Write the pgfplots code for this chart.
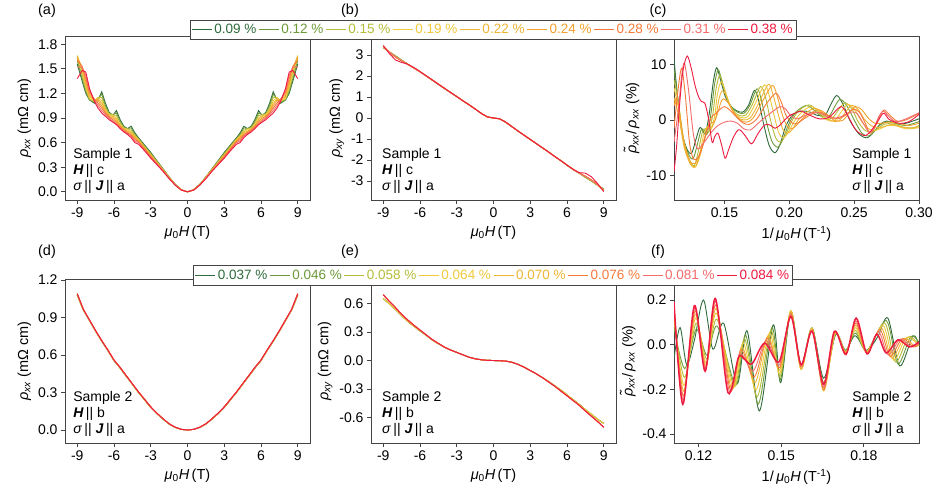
\documentclass[border=0pt]{standalone}
\usepackage{pgfplots}
\pgfplotsset{compat=1.18}
\usepackage{pgfplotstable}
\usepackage{fontspec}
\setmainfont{Liberation Sans}

\definecolor{c1}{HTML}{2E6B3C}
\definecolor{c2}{HTML}{6E9A3A}
\definecolor{c3}{HTML}{B5BC3A}
\definecolor{c4}{HTML}{F0C93C}
\definecolor{c5}{HTML}{EEB535}
\definecolor{c6}{HTML}{F3A02E}
\definecolor{c7}{HTML}{F57A3A}
\definecolor{c8}{HTML}{F46B6B}
\definecolor{c9}{HTML}{EE1B3F}
\definecolor{frame}{HTML}{444444}

\newcommand{\tfont}{\fontsize{14bp}{16bp}\selectfont}
\newcommand{\lfont}{\fontsize{14.5bp}{17bp}\selectfont}
\newcommand{\legfont}{\fontsize{13.5bp}{16bp}\selectfont}

% sample 1, rho_xx (mOhm cm)
\pgfplotstableread{
H     c1    c2    c3    c4    c5    c6    c7    c8    c9
-9.0  1.56  1.60  1.63  1.66  1.66  1.64  1.60  1.52  1.38
-8.6  1.35  1.38  1.42  1.46  1.49  1.52  1.53  1.52  1.48
-8.3  1.20  1.22  1.25  1.28  1.31  1.34  1.38  1.42  1.46
-8.0  1.12  1.12  1.13  1.14  1.16  1.18  1.21  1.24  1.26
-7.6  1.08  1.09  1.10  1.11  1.12  1.12  1.13  1.12  1.10
-7.3  1.12  1.14  1.15  1.15  1.13  1.11  1.08  1.05  1.02
-7.0  1.22  1.19  1.15  1.11  1.08  1.05  1.02  0.99  0.96
-6.7  1.08  1.05  1.02  1.00  0.99  0.97  0.96  0.94  0.92
-6.4  0.97  0.96  0.95  0.94  0.93  0.92  0.91  0.90  0.88
-6.1  0.93  0.94  0.94  0.93  0.92  0.90  0.88  0.86  0.85
-5.8  0.99  0.96  0.93  0.90  0.88  0.86  0.84  0.82  0.82
-5.5  0.88  0.86  0.84  0.82  0.81  0.80  0.79  0.78  0.77
-5.2  0.80  0.79  0.78  0.77  0.77  0.76  0.75  0.74  0.73
-4.9  0.77  0.77  0.77  0.76  0.74  0.73  0.72  0.71  0.70
-4.6  0.80  0.78  0.75  0.73  0.72  0.70  0.69  0.68  0.66
-4.3  0.72  0.70  0.69  0.68  0.67  0.66  0.64  0.62  0.60
-4.0  0.66  0.65  0.64  0.64  0.63  0.62  0.61  0.60  0.58
-3.5  0.57  0.56  0.55  0.54  0.535 0.53  0.52  0.51  0.50
-3.0  0.48  0.47  0.46  0.45  0.445 0.44  0.43  0.42  0.41
-2.5  0.38  0.37  0.37  0.36  0.355 0.35  0.345 0.34  0.33
-2.0  0.28  0.28  0.27  0.27  0.265 0.26  0.258 0.255 0.25
-1.5  0.18  0.18  0.18  0.175 0.172 0.17  0.168 0.165 0.16
-1.0  0.09  0.09  0.09  0.088 0.087 0.085 0.084 0.082 0.08
-0.5  0.025 0.025 0.025 0.024 0.023 0.022 0.022 0.021 0.02
0.0   0     0     0     0     0     0     0     0     0
0.5   0.025 0.025 0.025 0.024 0.023 0.022 0.022 0.021 0.02
1.0   0.09  0.09  0.09  0.088 0.087 0.085 0.084 0.082 0.08
1.5   0.18  0.18  0.18  0.175 0.172 0.17  0.168 0.165 0.16
2.0   0.28  0.28  0.27  0.27  0.265 0.26  0.258 0.255 0.25
2.5   0.38  0.37  0.37  0.36  0.355 0.35  0.345 0.34  0.33
3.0   0.48  0.47  0.46  0.45  0.445 0.44  0.43  0.42  0.41
3.5   0.57  0.56  0.55  0.54  0.535 0.53  0.52  0.51  0.50
4.0   0.66  0.65  0.64  0.64  0.63  0.62  0.61  0.60  0.58
4.3   0.72  0.70  0.69  0.68  0.67  0.66  0.64  0.62  0.60
4.6   0.80  0.78  0.75  0.73  0.72  0.70  0.69  0.68  0.66
4.9   0.77  0.77  0.77  0.76  0.74  0.73  0.72  0.71  0.70
5.2   0.80  0.79  0.78  0.77  0.77  0.76  0.75  0.74  0.73
5.5   0.88  0.86  0.84  0.82  0.81  0.80  0.79  0.78  0.77
5.8   0.99  0.96  0.93  0.90  0.88  0.86  0.84  0.82  0.82
6.1   0.93  0.94  0.94  0.93  0.92  0.90  0.88  0.86  0.85
6.4   0.97  0.96  0.95  0.94  0.93  0.92  0.91  0.90  0.88
6.7   1.08  1.05  1.02  1.00  0.99  0.97  0.96  0.94  0.92
7.0   1.22  1.19  1.15  1.11  1.08  1.05  1.02  0.99  0.96
7.3   1.12  1.14  1.15  1.15  1.13  1.11  1.08  1.05  1.02
7.6   1.08  1.09  1.10  1.11  1.12  1.12  1.13  1.12  1.10
8.0   1.12  1.12  1.13  1.14  1.16  1.18  1.21  1.24  1.26
8.3   1.20  1.22  1.25  1.28  1.31  1.34  1.38  1.42  1.46
8.6   1.35  1.38  1.42  1.46  1.49  1.52  1.53  1.52  1.48
9.0   1.56  1.60  1.63  1.66  1.66  1.64  1.60  1.52  1.38
}\tabA

% sample 1, rho_xy (mOhm cm)
\pgfplotstableread{
H     A      B      R
-9.0  3.35   3.40   3.45
-8.5  3.14   3.13   3.06
-8.0  2.95   2.90   2.76
-7.5  2.75   2.72   2.64
-7.0  2.56   2.55   2.56
-6.5  2.38   2.38   2.40
-6.0  2.20   2.20   2.21
-5.5  2.00   2.00   2.01
-5.0  1.80   1.81   1.81
-4.5  1.60   1.61   1.61
-4.0  1.40   1.41   1.41
-3.5  1.21   1.21   1.21
-3.0  1.02   1.02   1.02
-2.5  0.82   0.82   0.82
-2.0  0.63   0.63   0.63
-1.5  0.43   0.43   0.43
-1.0  0.22   0.22   0.22
-0.5  0.05   0.05   0.05
0.0   0.00   0.00   0.00
0.5   -0.04  -0.04  -0.04
1.0   -0.20  -0.20  -0.20
1.5   -0.41  -0.41  -0.41
2.0   -0.62  -0.62  -0.62
2.5   -0.82  -0.82  -0.82
3.0   -1.02  -1.02  -1.02
3.5   -1.22  -1.22  -1.22
4.0   -1.42  -1.42  -1.42
4.5   -1.62  -1.62  -1.62
5.0   -1.83  -1.83  -1.83
5.5   -2.03  -2.03  -2.03
6.0   -2.25  -2.24  -2.24
6.5   -2.45  -2.44  -2.44
7.0   -2.63  -2.62  -2.60
7.5   -2.82  -2.77  -2.62
8.0   -3.00  -2.95  -2.80
8.5   -3.20  -3.17  -3.12
9.0   -3.38  -3.45  -3.50
}\tabB

% sample 2, rho_xx
\pgfplotstableread{
H     G      R
-9.0  1.08   1.09
-8.8  1.03   1.04
-8.5  0.96   0.965
-8.0  0.875  0.88
-7.5  0.79   0.795
-7.0  0.71   0.715
-6.5  0.635  0.64
-6.0  0.555  0.56
-5.5  0.495  0.50
-5.0  0.43   0.435
-4.5  0.365  0.37
-4.0  0.30   0.305
-3.5  0.24   0.245
-3.0  0.18   0.185
-2.5  0.13   0.135
-2.0  0.087  0.09
-1.5  0.048  0.05
-1.0  0.02   0.022
-0.5  0.005  0.005
0.0   0      0
0.5   0.005  0.005
1.0   0.02   0.022
1.5   0.048  0.05
2.0   0.087  0.09
2.5   0.13   0.135
3.0   0.18   0.185
3.5   0.24   0.245
4.0   0.30   0.305
4.5   0.365  0.37
5.0   0.43   0.435
5.5   0.495  0.50
6.0   0.555  0.56
6.5   0.635  0.64
7.0   0.71   0.715
7.5   0.79   0.795
8.0   0.875  0.88
8.5   0.96   0.965
8.8   1.03   1.04
9.0   1.08   1.09
}\tabD

% sample 2, rho_xy
\pgfplotstableread{
H     G       R
-9.0  0.65    0.69
-8.5  0.595   0.62
-8.0  0.535   0.555
-7.5  0.47    0.485
-7.0  0.41    0.425
-6.5  0.36    0.37
-6.0  0.31    0.32
-5.5  0.265   0.27
-5.0  0.215   0.22
-4.5  0.175   0.18
-4.0  0.14    0.14
-3.5  0.11    0.11
-3.0  0.085   0.085
-2.5  0.06    0.06
-2.0  0.035   0.035
-1.5  0.018   0.018
-1.0  0.008   0.008
-0.5  0.002   0.002
0.0   0       0
0.5   -0.002  -0.002
1.0   -0.006  -0.006
1.5   -0.018  -0.018
2.0   -0.04   -0.04
2.5   -0.07   -0.07
3.0   -0.105  -0.105
3.5   -0.14   -0.14
4.0   -0.18   -0.18
4.5   -0.22   -0.225
5.0   -0.265  -0.27
5.5   -0.31   -0.32
6.0   -0.36   -0.37
6.5   -0.41   -0.42
7.0   -0.46   -0.47
7.5   -0.515  -0.53
8.0   -0.565  -0.585
8.5   -0.615  -0.64
9.0   -0.66   -0.70
}\tabE

\tikzset{annot/.style={font=\tfont, align=left, inner sep=0pt}}

\pgfplotsset{
  panel/.style={
    scale only axis, width=245bp, height=164bp,
    axis line style={frame, line width=0.8bp},
    tick style={frame, line width=0.8bp},
    tick align=outside, tick pos=left, major tick length=4bp,
    every tick label/.append style={font=\tfont},
    label style={font=\lfont},
    xlabel style={yshift=-2bp},
    /pgf/number format/assume math mode=true,
  },
  field/.style={xmin=-10, xmax=10, xtick={-9,-6,-3,0,3,6,9},
    xlabel={\textit{μ}\textsubscript{0}\textit{H}\,(T)}},
  inv/.style={xlabel={1/\,\textit{μ}\textsubscript{0}\textit{H}\,(T\textsuperscript{-1})},
    xticklabel style={/pgf/number format/.cd, fixed, fixed zerofill, precision=2}},
  osc/.style={ylabel={\textit{\~{ρ}}\textsubscript{\textit{xx}}/\,\textit{ρ}\textsubscript{\textit{xx}} (\%)}},
  lw/.style={line width=0.9bp},
  toplegend/.style={legend columns=-1,
    legend style={color=frame, draw, fill=white, font=\legfont, line width=0.8bp,
      inner xsep=1.5bp, inner ysep=2.5bp,
      /tikz/every even column/.append style={column sep=0bp}},
    legend image code/.code={\draw[##1, line width=1bp] (0bp,0bp) -- (20bp,0bp);}},
}

\begin{document}
\begin{tikzpicture}
\useasboundingbox (0,0) rectangle (937bp,492bp);

% (a)
\begin{axis}[panel, field, at={(65bp,292bp)}, anchor=south west,
  ymin=-0.1, ymax=1.9, ytick={0,0.3,0.6,0.9,1.2,1.5,1.8},
  yticklabel style={/pgf/number format/.cd, fixed, fixed zerofill, precision=1},
  ylabel={\textit{ρ}\textsubscript{\textit{xx}} (mΩ cm)}]
\addplot[c1, lw] table[x=H, y=c1] {\tabA};
\addplot[c2, lw] table[x=H, y=c2] {\tabA};
\addplot[c3, lw] table[x=H, y=c3] {\tabA};
\addplot[c4, lw] table[x=H, y=c4] {\tabA};
\addplot[c5, lw] table[x=H, y=c5] {\tabA};
\addplot[c6, lw] table[x=H, y=c6] {\tabA};
\addplot[c7, lw] table[x=H, y=c7] {\tabA};
\addplot[c8, lw] table[x=H, y=c8] {\tabA};
\addplot[c9, lw] table[x=H, y=c9] {\tabA};
\node[annot, anchor=south west] at (rel axis cs:0.033,0.04)
  {Sample 1\\ \textbf{\textit{H}}\,|| c\\ \textit{σ}\,|| \textbf{\textit{J}}\,|| a};
\end{axis}

% (c)
\begin{axis}[panel, inv, osc, at={(674bp,292bp)}, anchor=south west,
  xmin=0.1111, xmax=0.30, xtick={0.15,0.20,0.25,0.30},
  ymin=-14.4, ymax=15.1, ytick={-10,0,10}]
\addplot[c1, lw, smooth] coordinates {(0.1111,11.0)(0.1135,5.0)(0.1170,-2.0)(0.1210,-5.2)(0.1246,-6.0)(0.1280,-3.5)(0.1310,-1.4)(0.1335,-2.0)(0.1355,-2.4)(0.1385,1.5)(0.1415,7.0)(0.1440,9.4)(0.1470,7.2)(0.1505,4.3)(0.1545,2.6)(0.1590,1.7)(0.1640,1.4)(0.1685,2.6)(0.1730,5.3)(0.1760,3.8)(0.1800,-0.5)(0.1845,-4.6)(0.1890,-5.9)(0.1930,-4.3)(0.1975,-1.0)(0.2030,1.0)(0.2100,1.6)(0.2160,1.4)(0.2220,0.8)(0.2280,1.0)(0.2320,2.8)(0.2365,4.4)(0.2410,3.0)(0.2470,-0.2)(0.2540,-2.6)(0.2600,-3.2)(0.2650,-2.2)(0.2700,-0.8)(0.2750,-0.2)(0.2810,-0.5)(0.2880,-0.7)(0.2940,-0.3)(0.3000,0.2)};
\addplot[c2, lw, smooth] coordinates {(0.1111,9.0)(0.1140,4.0)(0.1175,-2.5)(0.1220,-6.0)(0.1257,-7.0)(0.1290,-4.5)(0.1320,-1.8)(0.1345,-1.8)(0.1365,-2.6)(0.1395,1.0)(0.1425,6.6)(0.1452,9.0)(0.1480,7.0)(0.1515,4.0)(0.1555,2.3)(0.1600,1.4)(0.1650,1.2)(0.1695,2.6)(0.1750,5.6)(0.1780,4.0)(0.1820,0.0)(0.1865,-3.8)(0.1910,-4.9)(0.1950,-3.5)(0.1995,-0.8)(0.2050,1.4)(0.2130,2.6)(0.2190,1.8)(0.2250,0.6)(0.2310,0.8)(0.2350,2.4)(0.2390,3.7)(0.2440,2.7)(0.2500,0.0)(0.2560,-2.4)(0.2610,-2.9)(0.2650,-2.2)(0.2700,-0.9)(0.2760,-0.3)(0.2830,-0.7)(0.2900,-1.0)(0.3000,-0.3)};
\addplot[c3, lw, smooth] coordinates {(0.1111,7.2)(0.1145,3.0)(0.1185,-3.5)(0.1230,-7.2)(0.1268,-8.2)(0.1300,-5.5)(0.1330,-2.2)(0.1360,-1.5)(0.1380,-2.2)(0.1410,1.0)(0.1435,5.5)(0.1462,8.0)(0.1490,6.4)(0.1525,3.5)(0.1570,1.6)(0.1615,0.8)(0.1665,0.9)(0.1715,2.8)(0.1778,6.0)(0.1815,4.2)(0.1855,0.0)(0.1895,-3.2)(0.1932,-4.0)(0.1970,-2.8)(0.2015,-0.4)(0.2070,1.6)(0.2150,2.7)(0.2210,1.8)(0.2270,0.2)(0.2330,0.3)(0.2385,2.0)(0.2430,3.1)(0.2480,2.1)(0.2530,-0.3)(0.2580,-1.8)(0.2620,-2.2)(0.2670,-1.8)(0.2730,-0.8)(0.2800,-0.7)(0.2880,-1.3)(0.2950,-1.4)(0.3000,-1.0)};
\addplot[c4, lw, smooth] coordinates {(0.1111,5.8)(0.1150,1.5)(0.1190,-4.5)(0.1235,-7.8)(0.1275,-8.5)(0.1310,-6.0)(0.1340,-2.6)(0.1370,-1.2)(0.1395,-1.8)(0.1425,0.8)(0.1445,4.5)(0.1472,6.8)(0.1500,5.6)(0.1540,2.8)(0.1585,1.0)(0.1630,0.4)(0.1680,0.6)(0.1735,2.8)(0.1808,6.3)(0.1845,4.4)(0.1885,0.6)(0.1920,-2.4)(0.1955,-3.2)(0.1990,-2.3)(0.2040,-0.2)(0.2100,1.5)(0.2170,2.4)(0.2230,1.5)(0.2290,0.0)(0.2350,-0.1)(0.2405,1.6)(0.2450,2.8)(0.2500,2.0)(0.2550,0.0)(0.2600,-1.4)(0.2650,-1.9)(0.2700,-1.6)(0.2760,-1.0)(0.2830,-1.1)(0.2900,-1.6)(0.3000,-1.4)};
\addplot[c5, lw, smooth] coordinates {(0.1111,4.0)(0.1150,0.5)(0.1190,-5.0)(0.1240,-8.0)(0.1280,-8.3)(0.1315,-6.2)(0.1350,-3.0)(0.1380,-1.0)(0.1405,-1.3)(0.1435,0.6)(0.1455,3.5)(0.1480,5.2)(0.1510,4.6)(0.1550,2.2)(0.1600,0.5)(0.1650,0.0)(0.1700,0.4)(0.1760,2.8)(0.1838,6.4)(0.1875,4.5)(0.1915,1.0)(0.1950,-1.7)(0.1985,-2.4)(0.2020,-1.8)(0.2070,0.0)(0.2130,1.3)(0.2200,2.1)(0.2260,1.2)(0.2320,-0.1)(0.2380,-0.2)(0.2430,1.3)(0.2480,2.6)(0.2530,1.9)(0.2580,0.1)(0.2630,-1.0)(0.2680,-1.4)(0.2730,-1.2)(0.2790,-0.8)(0.2860,-1.2)(0.2930,-1.5)(0.3000,-1.2)};
\addplot[c6, lw, smooth] coordinates {(0.1111,2.5)(0.1130,4.0)(0.1150,2.0)(0.1190,-4.2)(0.1235,-7.4)(0.1275,-7.8)(0.1315,-5.8)(0.1355,-2.6)(0.1390,-0.6)(0.1420,-0.4)(0.1450,1.4)(0.1470,3.0)(0.1490,3.8)(0.1525,3.2)(0.1570,1.4)(0.1620,0.0)(0.1670,-0.4)(0.1720,0.3)(0.1785,3.0)(0.1868,6.2)(0.1905,4.4)(0.1945,1.0)(0.1980,-1.0)(0.2015,-1.6)(0.2050,-1.1)(0.2100,0.2)(0.2160,1.2)(0.2230,1.8)(0.2290,1.0)(0.2350,-0.1)(0.2410,-0.1)(0.2460,1.2)(0.2510,2.4)(0.2560,1.8)(0.2610,0.3)(0.2660,-0.6)(0.2710,-0.6)(0.2770,-0.4)(0.2840,-0.6)(0.2920,-1.0)(0.3000,-0.6)};
\addplot[c7, lw, smooth] coordinates {(0.1111,-1.5)(0.1135,4.0)(0.1160,8.5)(0.1175,9.0)(0.1200,4.0)(0.1230,-4.0)(0.1260,-7.0)(0.1295,-6.8)(0.1335,-4.5)(0.1370,-1.5)(0.1400,0.5)(0.1435,1.2)(0.1470,2.0)(0.1500,2.4)(0.1540,1.8)(0.1590,0.6)(0.1640,-0.5)(0.1690,-0.8)(0.1750,0.2)(0.1820,2.8)(0.1895,4.8)(0.1935,3.4)(0.1975,0.8)(0.2020,-0.5)(0.2055,-0.7)(0.2100,0.0)(0.2170,1.0)(0.2240,1.4)(0.2300,0.8)(0.2370,0.2)(0.2430,0.8)(0.2490,1.9)(0.2540,1.4)(0.2590,-0.8)(0.2620,-2.4)(0.2650,-1.8)(0.2700,0.8)(0.2730,1.8)(0.2770,1.0)(0.2830,-0.2)(0.2900,0.0)(0.3000,1.2)};
\addplot[c8, lw, smooth] coordinates {(0.1111,-4.0)(0.1145,2.0)(0.1170,8.0)(0.1192,10.2)(0.1225,5.0)(0.1260,-2.5)(0.1295,-5.2)(0.1350,-3.8)(0.1400,-2.2)(0.1450,-1.0)(0.1500,-0.4)(0.1550,-0.2)(0.1600,-0.6)(0.1650,-1.6)(0.1700,-1.8)(0.1750,-0.8)(0.1810,0.4)(0.1870,1.5)(0.1930,2.4)(0.1970,2.0)(0.2010,0.8)(0.2060,0.2)(0.2120,0.8)(0.2200,1.4)(0.2270,0.9)(0.2330,0.3)(0.2400,0.6)(0.2470,1.4)(0.2520,1.2)(0.2570,-0.6)(0.2615,-2.2)(0.2650,-1.6)(0.2690,0.6)(0.2725,1.6)(0.2760,0.8)(0.2820,-0.3)(0.2900,0.2)(0.3000,1.3)};
\addplot[c9, lw, smooth] coordinates {(0.1111,-9.3)(0.1130,-5.0)(0.1155,3.0)(0.1180,8.8)(0.1213,11.5)(0.1245,9.2)(0.1272,6.3)(0.1300,4.2)(0.1323,3.3)(0.1349,3.0)(0.1375,0.5)(0.1405,-4.0)(0.1425,-3.0)(0.1450,-2.4)(0.1478,-4.5)(0.1505,-6.9)(0.1530,-5.5)(0.1567,-3.2)(0.1605,-1.8)(0.1630,-2.0)(0.1665,-3.0)(0.1710,-4.3)(0.1760,-2.4)(0.1810,-0.9)(0.1850,-0.9)(0.1890,-1.5)(0.1930,-0.9)(0.1964,0.0)(0.2010,0.9)(0.2054,1.3)(0.2090,1.6)(0.2154,0.9)(0.2231,0.2)(0.2308,0.5)(0.2398,2.4)(0.2450,0.8)(0.2513,-1.8)(0.2590,-2.8)(0.2667,-0.8)(0.2725,1.2)(0.2770,0.1)(0.2846,-0.6)(0.2923,-0.3)(0.3000,1.0)};
\node[annot, anchor=south east] at (rel axis cs:0.97,0.04)
  {Sample 1\\ \textbf{\textit{H}}\,|| c\\ \textit{σ}\,|| \textbf{\textit{J}}\,|| a};
\end{axis}

% (b) carries the strain legend of sample 1
\begin{axis}[panel, field, toplegend, at={(371bp,292bp)}, anchor=south west,
  ymin=-3.9, ymax=3.9, ytick={-3,-2,-1,0,1,2,3},
  ylabel={\textit{ρ}\textsubscript{\textit{xy}} (mΩ cm)},
  legend style={at={(0.498,1.037)}, anchor=center}]
\addplot[c1, lw] table[x=H, y=A] {\tabB};
\addlegendentry{\textcolor{c1}{0.09 \%}}
\addplot[c2, lw] table[x=H, y=A] {\tabB};
\addlegendentry{\textcolor{c2}{0.12 \%}}
\addplot[c3, lw] table[x=H, y=A] {\tabB};
\addlegendentry{\textcolor{c3}{0.15 \%}}
\addplot[c4, lw] table[x=H, y=B] {\tabB};
\addlegendentry{\textcolor{c4}{0.19 \%}}
\addplot[c5, lw] table[x=H, y=B] {\tabB};
\addlegendentry{\textcolor{c5}{0.22 \%}}
\addplot[c6, lw] table[x=H, y=B] {\tabB};
\addlegendentry{\textcolor{c6}{0.24 \%}}
\addplot[c7, lw] table[x=H, y=B] {\tabB};
\addlegendentry{\textcolor{c7}{0.28 \%}}
\addplot[c8, lw] table[x=H, y=B] {\tabB};
\addlegendentry{\textcolor{c8}{0.31 \%}}
\addplot[c9, lw] table[x=H, y=R] {\tabB};
\addlegendentry{\textcolor{c9}{0.38 \%}}
\node[annot, anchor=south west] at (rel axis cs:0.045,0.04)
  {Sample 1\\ \textbf{\textit{H}}\,|| c\\ \textit{σ}\,|| \textbf{\textit{J}}\,|| a};
\end{axis}

% (d)
\begin{axis}[panel, field, at={(65bp,49bp)}, anchor=south west,
  ymin=-0.104, ymax=1.208, ytick={0,0.3,0.6,0.9,1.2},
  yticklabel style={/pgf/number format/.cd, fixed, fixed zerofill, precision=1},
  ylabel={\textit{ρ}\textsubscript{\textit{xx}} (mΩ cm)}]
\addplot[c1, lw] table[x=H, y=G] {\tabD};
\addplot[c2, lw] table[x=H, y=G] {\tabD};
\addplot[c3, lw] table[x=H, y=G] {\tabD};
\addplot[c4, lw] table[x=H, y=G] {\tabD};
\addplot[c5, lw] table[x=H, y=R] {\tabD};
\addplot[c7, lw] table[x=H, y=R] {\tabD};
\addplot[c8, lw] table[x=H, y=R] {\tabD};
\addplot[c9, lw] table[x=H, y=R] {\tabD};
\node[annot, anchor=south west] at (rel axis cs:0.033,0.04)
  {Sample 2\\ \textbf{\textit{H}}\,|| b\\ \textit{σ}\,|| \textbf{\textit{J}}\,|| a};
\end{axis}

% (f)
\begin{axis}[panel, inv, osc, at={(674bp,49bp)}, anchor=south west,
  xmin=0.1111, xmax=0.20, xtick={0.12,0.15,0.18},
  ymin=-0.44, ymax=0.294, ytick={-0.4,-0.2,0,0.2},
  yticklabel style={/pgf/number format/.cd, fixed, fixed zerofill, precision=1}]
\addplot[c1, lw, smooth] coordinates {(0.1111,-0.06)(0.1133,0.077)(0.1157,-0.089)(0.1185,0.02)(0.1218,0.200)(0.1252,-0.02)(0.1291,0.096)(0.1340,-0.175)(0.1376,0.062)(0.1421,-0.296)(0.1471,0.089)(0.1498,-0.17)(0.1535,0.148)(0.1572,-0.09)(0.1612,0.075)(0.1654,-0.15)(0.1698,0.045)(0.1733,-0.025)(0.1768,0.04)(0.1810,-0.025)(0.1850,0.035)(0.1887,0.119)(0.1930,-0.095)(0.1978,0.04)(0.2000,-0.005)};
\addplot[c2, lw, smooth] coordinates {(0.1111,0.075)(0.1150,-0.107)(0.1192,0.07)(0.1231,-0.048)(0.1268,0.083)(0.1335,-0.181)(0.1371,0.044)(0.1417,-0.265)(0.1466,0.077)(0.1497,-0.156)(0.1535,0.15)(0.1572,-0.10)(0.1612,0.075)(0.1654,-0.17)(0.1697,0.047)(0.1734,-0.028)(0.1769,0.052)(0.1810,-0.027)(0.1881,0.108)(0.1923,-0.086)(0.1970,0.037)(0.2000,0.01)};
\addplot[c3, lw, smooth] coordinates {(0.1111,0.104)(0.1149,-0.147)(0.1191,0.096)(0.1230,-0.065)(0.1267,0.114)(0.1330,-0.187)(0.1367,0.027)(0.1413,-0.233)(0.1462,0.064)(0.1496,-0.142)(0.1535,0.152)(0.1572,-0.11)(0.1612,0.075)(0.1654,-0.19)(0.1697,0.05)(0.1734,-0.031)(0.1769,0.064)(0.1810,-0.03)(0.1875,0.097)(0.1915,-0.078)(0.1962,0.035)(0.2000,-0.004)};
\addplot[c4, lw, smooth] coordinates {(0.1111,0.129)(0.1147,-0.182)(0.1189,0.119)(0.1228,-0.081)(0.1265,0.141)(0.1325,-0.193)(0.1362,0.009)(0.1409,-0.202)(0.1457,0.052)(0.1495,-0.128)(0.1535,0.152)(0.1572,-0.11)(0.1612,0.074)(0.1654,-0.205)(0.1696,0.052)(0.1734,-0.034)(0.1770,0.076)(0.1810,-0.032)(0.1869,0.087)(0.1908,-0.069)(0.1954,0.032)(0.2000,-0.004)};
\addplot[c5, lw, smooth] coordinates {(0.1111,0.148)(0.1146,-0.208)(0.1188,0.137)(0.1227,-0.093)(0.1264,0.161)(0.1320,-0.199)(0.1357,-0.009)(0.1405,-0.17)(0.1452,0.04)(0.1494,-0.114)(0.1535,0.148)(0.1572,-0.11)(0.1612,0.07)(0.1654,-0.207)(0.1695,0.054)(0.1734,-0.036)(0.1770,0.087)(0.1810,-0.035)(0.1863,0.076)(0.1901,-0.06)(0.1946,0.029)(0.1985,-0.009)(0.2000,0.0)};
\addplot[c7, lw, smooth] coordinates {(0.1111,0.163)(0.1145,-0.23)(0.1187,0.151)(0.1226,-0.102)(0.1263,0.178)(0.1316,-0.204)(0.1354,-0.023)(0.1402,-0.145)(0.1449,0.03)(0.1494,-0.103)(0.1535,0.14)(0.1572,-0.10)(0.1612,0.066)(0.1654,-0.2)(0.1694,0.056)(0.1735,-0.039)(0.1771,0.097)(0.1810,-0.037)(0.1858,0.067)(0.1895,-0.053)(0.1939,0.027)(0.1980,-0.01)(0.2000,0.004)};
\addplot[c8, lw, smooth] coordinates {(0.1111,0.177)(0.1144,-0.248)(0.1186,0.163)(0.1225,-0.111)(0.1262,0.193)(0.1312,-0.209)(0.1350,-0.038)(0.1398,-0.118)(0.1445,0.019)(0.1493,-0.091)(0.1535,0.133)(0.1572,-0.095)(0.1612,0.063)(0.1654,-0.19)(0.1694,0.058)(0.1735,-0.041)(0.1771,0.107)(0.1811,-0.039)(0.1853,0.058)(0.1888,-0.046)(0.1932,0.025)(0.1972,-0.01)(0.2000,0.008)};
\addplot[c9, line width=1.5bp, smooth] coordinates {(0.1111,0.19)(0.1143,-0.267)(0.1185,0.175)(0.1224,-0.119)(0.1261,0.207)(0.1307,-0.215)(0.1345,-0.056)(0.1365,-0.063)(0.1394,-0.086)(0.1440,0.007)(0.1492,-0.077)(0.1535,0.126)(0.1572,-0.089)(0.1612,0.06)(0.1654,-0.178)(0.1693,0.06)(0.1735,-0.044)(0.1772,0.119)(0.1811,-0.041)(0.1847,0.047)(0.1881,-0.037)(0.1924,0.022)(0.1965,-0.01)(0.2000,0.012)};
\node[annot, anchor=south east] at (rel axis cs:0.97,0.04)
  {Sample 2\\ \textbf{\textit{H}}\,|| b\\ \textit{σ}\,|| \textbf{\textit{J}}\,|| a};
\end{axis}

% (e) carries the strain legend of sample 2
\begin{axis}[panel, field, toplegend, at={(371bp,49bp)}, anchor=south west,
  ymin=-0.865, ymax=0.855, ytick={-0.6,-0.3,0,0.3,0.6},
  yticklabel style={/pgf/number format/.cd, fixed, fixed zerofill, precision=1},
  ylabel={\textit{ρ}\textsubscript{\textit{xy}} (mΩ cm)},
  legend style={at={(0.498,1.024)}, anchor=center}]
\addplot[c1, lw] table[x=H, y=G] {\tabE};
\addlegendentry{\textcolor{c1}{0.037 \%}}
\addplot[c2, lw] table[x=H, y=G] {\tabE};
\addlegendentry{\textcolor{c2}{0.046 \%}}
\addplot[c3, lw] table[x=H, y=G] {\tabE};
\addlegendentry{\textcolor{c3}{0.058 \%}}
\addplot[c4, lw] table[x=H, y=G] {\tabE};
\addlegendentry{\textcolor{c4}{0.064 \%}}
\addplot[c5, lw] table[x=H, y=R] {\tabE};
\addlegendentry{\textcolor{c5}{0.070 \%}}
\addplot[c7, lw] table[x=H, y=R] {\tabE};
\addlegendentry{\textcolor{c7}{0.076 \%}}
\addplot[c8, lw] table[x=H, y=R] {\tabE};
\addlegendentry{\textcolor{c8}{0.081 \%}}
\addplot[c9, lw] table[x=H, y=R] {\tabE};
\addlegendentry{\textcolor{c9}{0.084 \%}}
\node[annot, anchor=south west] at (rel axis cs:0.045,0.04)
  {Sample 2\\ \textbf{\textit{H}}\,|| b\\ \textit{σ}\,|| \textbf{\textit{J}}\,|| a};
\end{axis}

\node[font=\lfont] at (47bp,481bp) {(a)};
\node[font=\lfont] at (350bp,481bp) {(b)};
\node[font=\lfont] at (658bp,481bp) {(c)};
\node[font=\lfont] at (47bp,240bp) {(d)};
\node[font=\lfont] at (350bp,240bp) {(e)};
\node[font=\lfont] at (658bp,240bp) {(f)};
\end{tikzpicture}
\end{document}
